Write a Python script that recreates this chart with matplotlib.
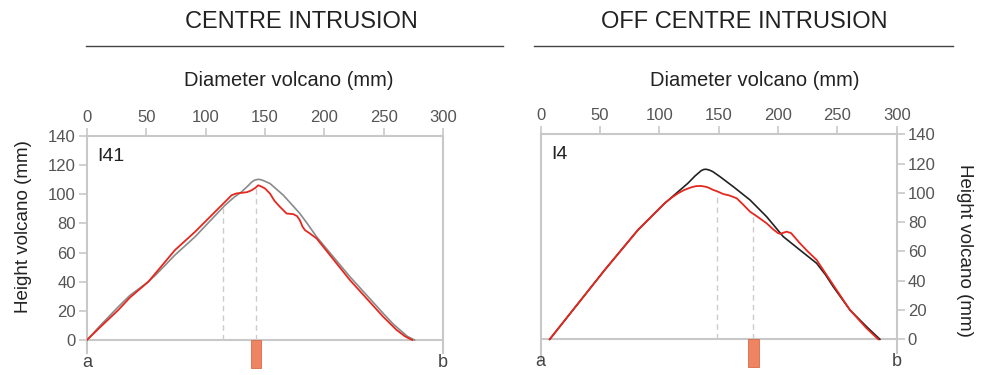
import matplotlib
matplotlib.use("Agg")
import matplotlib.pyplot as plt
from matplotlib.lines import Line2D

plt.rcParams["font.family"] = ["Liberation Sans", "DejaVu Sans"]

# ---------------------------------------------------------------------------
# Data (x: diameter in mm, y: height in mm)
# ---------------------------------------------------------------------------
titles = ["CENTRE INTRUSION", "OFF CENTRE INTRUSION"]
panel_ids = ["I41", "I4"]
x_ticks = [0, 50, 100, 150, 200, 250, 300]
y_ticks = [0, 20, 40, 60, 80, 100, 120, 140]

# centre intrusion (I41)
c_ref_x = [0, 10.7, 26.4, 36, 51.7, 58.3, 74.1, 91, 116.3, 124, 130, 135.9,
           138.8, 141.5, 144.5, 147.5, 154.2, 159, 165.4, 172, 179.4, 186,
           193.5, 221.6, 249.6, 258, 263.7, 270, 276]
c_ref_y = [0, 9.5, 22.8, 30.5, 40, 45, 58.3, 70.8, 92.5, 98, 101.5, 106,
           108.4, 109.8, 110.3, 109.8, 107.4, 104, 99.4, 93.5, 86.8, 79.5,
           70.8, 43.4, 18.3, 11, 6.9, 2.5, 0]
c_obs_x = [0, 10.7, 26.4, 36, 51.7, 60, 74.1, 91, 116.3, 121.9, 126, 130.3,
           135, 138.8, 142, 144.3, 147, 150, 154.2, 158, 162.6, 168.2, 173.8,
           177, 179.4, 181.5, 183.7, 188, 193.5, 221.6, 249.6, 260.9, 268, 274]
c_obs_y = [0, 8.5, 20.6, 29, 40, 48, 61.7, 74.2, 94.8, 99.4, 100.6, 101,
           101.5, 102.8, 104.5, 106.2, 105.3, 104, 100.5, 95.5, 91.4, 86.8,
           86.4, 85, 82.2, 78, 75.4, 73, 69.7, 41.1, 16, 6.9, 2.5, 0]
c_dash_x = [114.8, 142.4]
c_dash_top = [90.5, 104]
c_bar_x = 142.5

# off-centre intrusion (I4)
o_ref_x = [7.6, 53.9, 82, 104.5, 124.1, 130, 135.3, 137.5, 139.5, 142, 145,
           151, 162.3, 176.3, 190.4, 204.4, 218.4, 232.5, 240, 246.5, 260.6,
           274.6, 285.8]
o_ref_y = [0, 47.3, 74.7, 92.9, 106.6, 111.5, 115.2, 116, 116.1, 115.6, 114.5,
           111.1, 104.2, 95.2, 83.7, 70.1, 61, 51.9, 44, 35.9, 20,
           8.6, 0]
o_obs_x = [7.6, 53.9, 82, 104.5, 110, 115.7, 121, 126.9, 131, 135.3, 140,
           145.4, 149.4, 153.8, 159, 165.1, 170, 176.3, 183, 190.4, 196, 200.2,
           202, 204, 207.2, 211, 218.4, 225, 232.5, 246.5, 260.6, 274.6, 284.4]
o_obs_y = [0, 47.3, 74.7, 92.9, 96.5, 99.7, 102, 103.8, 104.6, 104.7, 104,
           102, 100.8, 99.2, 98.2, 96.3, 92.5, 87.2, 83.5, 79.2, 75, 72.4,
           72, 72.6, 73.5, 72.5, 65.6, 60, 54.2, 37.1, 20, 7.5, 0]
o_dash_x = [148.3, 179.1]
o_dash_top = [100, 85]
o_bar_x = 179.5

SPINE = "#c8c8c8"
TICK_TXT = "#555555"
TXT = "#222222"
RED = "#e5281f"
BAR = "#ef8462"


def draw_panel(ax, ref_x, ref_y, ref_col, obs_x, obs_y, dash_x, dash_top,
               bar_x, label, right, spine_lo):
    ax.set_xlim(0, 300)
    ax.set_ylim(-21, 140)
    ax.set_facecolor("none")

    # frame
    ax.spines["bottom"].set_visible(False)
    for s in ("top", "left", "right"):
        ax.spines[s].set_color(SPINE)
        ax.spines[s].set_linewidth(1.5)
    ax.spines["left"].set_bounds(spine_lo[0], 140)
    ax.spines["right"].set_bounds(spine_lo[1], 140)
    ax.plot([0, 300], [0, 0], color=SPINE, lw=1.5, zorder=1, clip_on=False)

    # ticks
    ax.xaxis.set_ticks_position("top")
    ax.set_xticks(x_ticks)
    ax.set_yticks(y_ticks)
    if right:
        ax.yaxis.set_ticks_position("right")
    else:
        ax.yaxis.set_ticks_position("left")
    ax.tick_params(axis="both", colors=SPINE, labelcolor=TICK_TXT,
                   labelsize=12, length=6, width=1.2, pad=2)

    # guide lines and intrusion bar
    for dx, dt in zip(dash_x, dash_top):
        ax.plot([dx, dx], [0, dt], color="#cccccc", lw=1, ls=(0, (4, 3)),
                zorder=1)
    ax.bar(bar_x, -19, width=9, bottom=0, color=BAR, edgecolor="#d76a48",
           linewidth=0.6, zorder=2)

    # profiles
    ax.plot(ref_x, ref_y, color=ref_col, lw=1.2, zorder=3)
    ax.plot(obs_x, obs_y, color=RED, lw=1.3, zorder=4)

    ax.text(8.5, 126, label, fontsize=14, color=TXT, va="center", ha="left")
    ax.text(0, -15.5, "a", fontsize=13, color="#444444", ha="center",
            va="center")
    ax.text(300, -15.5, "b", fontsize=13, color="#444444", ha="center",
            va="center")


fig = plt.figure(figsize=(9.84, 3.75), dpi=100)
ax1 = fig.add_axes([0.0884, 0.0117, 0.3618, 0.6256])
ax2 = fig.add_axes([0.5495, 0.0133, 0.3618, 0.6286])

draw_panel(ax1, c_ref_x, c_ref_y, "#8a8a8a", c_obs_x, c_obs_y, c_dash_x,
           c_dash_top, c_bar_x, panel_ids[0], False, (-9, -9))
draw_panel(ax2, o_ref_x, o_ref_y, "#222222", o_obs_x, o_obs_y, o_dash_x,
           o_dash_top, o_bar_x, panel_ids[1], True, (-15, -9.5))

# headers
fig.text(301 / 984, 1 - 22 / 375, titles[0], fontsize=17, color=TXT,
         ha="center", va="center")
fig.text(744 / 984, 1 - 22 / 375, titles[1], fontsize=17, color=TXT,
         ha="center", va="center")
fig.add_artist(Line2D([86 / 984, 503 / 984], [1 - 46 / 375] * 2,
                      color="#444444", lw=1))
fig.add_artist(Line2D([534 / 984, 953 / 984], [1 - 46 / 375] * 2,
                      color="#444444", lw=1))

fig.text(288.5 / 984, 1 - 80 / 375, "Diameter volcano (mm)", fontsize=14.5,
         color=TXT, ha="center", va="center")
fig.text(755 / 984, 1 - 80 / 375, "Diameter volcano (mm)", fontsize=14.5,
         color=TXT, ha="center", va="center")
fig.text(24 / 984, 1 - 226.5 / 375, "Height volcano (mm)", fontsize=13.5,
         color=TXT, ha="center", va="center", rotation=90)
fig.text(964 / 984, 1 - 250.5 / 375, "Height volcano (mm)", fontsize=13.5,
         color=TXT, ha="center", va="center", rotation=270)

fig.savefig("out.png", dpi=100)
